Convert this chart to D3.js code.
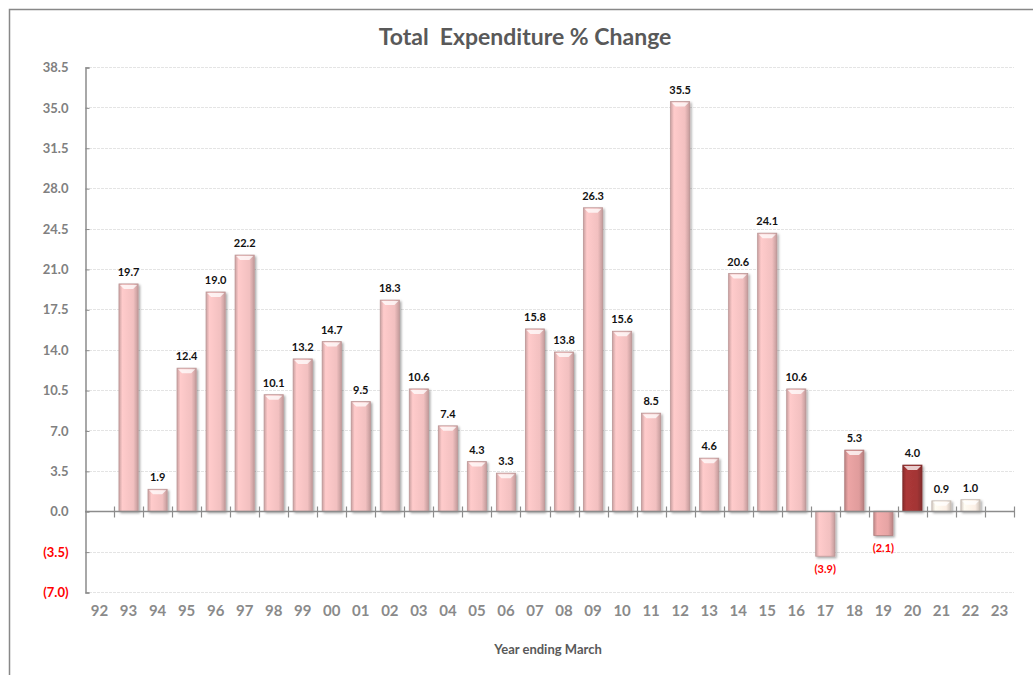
<!DOCTYPE html>
<html>
<head>
<meta charset="utf-8">
<script src="https://cdn.jsdelivr.net/npm/d3@7/dist/d3.min.js"></script>
<style>
  body { margin: 0; background: #fff; }
  svg { display: block; font-family: Lato, "Open Sans", sans-serif; }
</style>
</head>
<body>
<svg id="chart" width="1033" height="675"></svg>
<script>
const years = ['92', '93', '94', '95', '96', '97', '98', '99', '00', '01', '02', '03', '04', '05', '06', '07',
  '08', '09', '10', '11', '12', '13', '14', '15', '16', '17', '18', '19', '20', '21', '22', '23'];
const values = [null, 19.7, 1.9, 12.4, 19.0, 22.2, 10.1, 13.2, 14.7, 9.5, 18.3, 10.6, 7.4, 4.3, 3.3, 15.8,
  13.8, 26.3, 15.6, 8.5, 35.5, 4.6, 20.6, 24.1, 10.6, -3.9, 5.3, -2.1, 4.0, 0.9, 1.0, null];
const yTicks = [-7, -3.5, 0, 3.5, 7, 10.5, 14, 17.5, 21, 24.5, 28, 31.5, 35, 38.5];
// bar shading, one entry per year
const barColours = ['pink', 'pink', 'pink', 'pink', 'pink', 'pink', 'pink', 'pink', 'pink', 'pink', 'pink',
  'pink', 'pink', 'pink', 'pink', 'pink', 'pink', 'pink', 'pink', 'pink', 'pink', 'pink', 'pink', 'pink',
  'pink', 'pink', 'rose', 'rose2', 'red', 'cream', 'cream', 'pink'];

const palette = {
  pink: '#f2c0c0',
  rose: '#e09c9c',
  rose2: '#e6a4a4',
  red: '#a33535',
  cream: '#fcefe5'
};

const data = years.map((y, i) => ({year: y, value: values[i], colour: barColours[i]}))
  .filter(d => d.value !== null);

const svg = d3.select('#chart');
const margin = {top: 67, left: 85, right: 1014, bottom: 592};

const x = d3.scaleBand()
  .domain(years)
  .range([margin.left, margin.right])
  .paddingInner(0.34)
  .paddingOuter(0.17);
const y = d3.scaleLinear()
  .domain([-7, 38.5])
  .range([margin.bottom, margin.top]);

const fmt = v => v < 0 ? '(' + d3.format('.1f')(-v) + ')' : d3.format('.1f')(v);

// frame
svg.append('path')
  .attr('d', 'M9.5,675 V9.5 H1033')
  .attr('fill', 'none')
  .attr('stroke', '#888')
  .attr('stroke-width', 1.5);

// defs: gradients and shadow
const defs = svg.append('defs');
Object.entries(palette).forEach(([k, c]) => {
  const base = d3.color(c);
  const g = defs.append('linearGradient').attr('id', 'grad-' + k)
    .attr('x1', 0).attr('x2', 1).attr('y1', 0).attr('y2', 0);
  g.append('stop').attr('offset', '0%').attr('stop-color', base.darker(0.5));
  g.append('stop').attr('offset', '18%').attr('stop-color', base.brighter(0.15));
  g.append('stop').attr('offset', '75%').attr('stop-color', base);
  g.append('stop').attr('offset', '100%').attr('stop-color', base.darker(0.6));
});
const shadow = defs.append('filter').attr('id', 'shadow')
  .attr('x', '-30%').attr('y', '-10%').attr('width', '160%').attr('height', '130%');
shadow.append('feDropShadow')
  .attr('dx', 1.5).attr('dy', 1.5).attr('stdDeviation', 1.2)
  .attr('flood-color', '#000').attr('flood-opacity', 0.35);

// gridlines
svg.append('g')
  .selectAll('line')
  .data(yTicks)
  .join('line')
  .attr('x1', margin.left)
  .attr('x2', margin.right)
  .attr('y1', d => Math.round(y(d)) + 0.5)
  .attr('y2', d => Math.round(y(d)) + 0.5)
  .attr('stroke', '#e4e4e4')
  .attr('stroke-dasharray', d => d === 0 ? null : '3,1');

// y axis
const yAxis = d3.axisLeft(y).tickValues(yTicks).tickSize(-4).tickPadding(17).tickFormat(fmt);
const gy = svg.append('g')
  .attr('transform', 'translate(' + (margin.left + 0.5) + ',0.5)')
  .call(yAxis);
gy.select('.domain').attr('stroke', '#8c8c8c').attr('stroke-width', 1.5);
gy.selectAll('.tick line').attr('stroke', '#8c8c8c');
gy.selectAll('.tick text')
  .attr('font-size', 13)
  .attr('font-weight', 700)
  .attr('font-family', 'Lato, sans-serif')
  .attr('fill', d => d < 0 ? '#ff0000' : '#808080');

// bars
const bars = svg.append('g').attr('filter', 'url(#shadow)');
bars.selectAll('rect')
  .data(data)
  .join('rect')
  .attr('x', d => x(d.year))
  .attr('width', x.bandwidth())
  .attr('y', d => y(Math.max(0, d.value)))
  .attr('height', d => Math.abs(y(d.value) - y(0)))
  .attr('fill', d => 'url(#grad-' + d.colour + ')')
  .attr('stroke', d => d3.color(palette[d.colour]).darker(0.7))
  .attr('stroke-width', 0.8);

// bevel highlight on top edge
svg.append('g')
  .selectAll('path')
  .data(data.filter(d => d.value > 0))
  .join('path')
  .attr('d', d => {
    const x0 = x(d.year) + 1, x1 = x(d.year) + x.bandwidth() - 1, t = y(d.value) + 1;
    return 'M' + x0 + ',' + t + 'H' + x1 + 'L' + (x1 - 4) + ',' + (t + 4) + 'H' + (x0 + 4) + 'Z';
  })
  .attr('fill', '#fff')
  .attr('opacity', 0.75);

// zero line with category separators
const zy = Math.round(y(0)) + 0.5;
const gz = svg.append('g');
gz.append('line')
  .attr('x1', margin.left).attr('x2', margin.right)
  .attr('y1', zy).attr('y2', zy)
  .attr('stroke', '#8c8c8c').attr('stroke-width', 1.5);
gz.selectAll('.sep')
  .data(years.slice(1).concat(['end']))
  .join('line')
  .attr('class', 'sep')
  .attr('x1', (d, i) => Math.round(margin.left + (i + 1) * x.step()) + 0.5)
  .attr('x2', (d, i) => Math.round(margin.left + (i + 1) * x.step()) + 0.5)
  .attr('y1', zy - 5).attr('y2', zy + 6)
  .attr('stroke', '#8c8c8c').attr('stroke-width', 1.2);

// category labels
svg.append('g')
  .selectAll('text')
  .data(years)
  .join('text')
  .attr('x', d => x(d) + x.bandwidth() / 2)
  .attr('y', 616)
  .attr('text-anchor', 'middle')
  .attr('font-size', 15)
  .attr('font-weight', 700)
  .attr('fill', '#8a8a8a')
  .text(d => d);

// value labels
svg.append('g')
  .selectAll('text')
  .data(data)
  .join('text')
  .attr('x', d => x(d.year) + x.bandwidth() / 2)
  .attr('y', d => d.value < 0 ? y(d.value) + 17 : y(d.value) - 8)
  .attr('text-anchor', 'middle')
  .attr('font-size', 11)
  .attr('font-weight', 700)
  .attr('fill', d => d.value < 0 ? '#ff0000' : '#111')
  .text(d => fmt(d.value));

// title and axis caption
svg.append('text')
  .attr('x', 525).attr('y', 45)
  .attr('text-anchor', 'middle')
  .attr('font-size', 23)
  .attr('font-weight', 700)
  .attr('fill', '#595959')
  .attr('xml:space', 'preserve')
  .text('Total  Expenditure % Change');
svg.append('text')
  .attr('x', 548).attr('y', 654)
  .attr('text-anchor', 'middle')
  .attr('font-size', 13)
  .attr('font-weight', 700)
  .attr('fill', '#595959')
  .text('Year ending March');
</script>
</body>
</html>
